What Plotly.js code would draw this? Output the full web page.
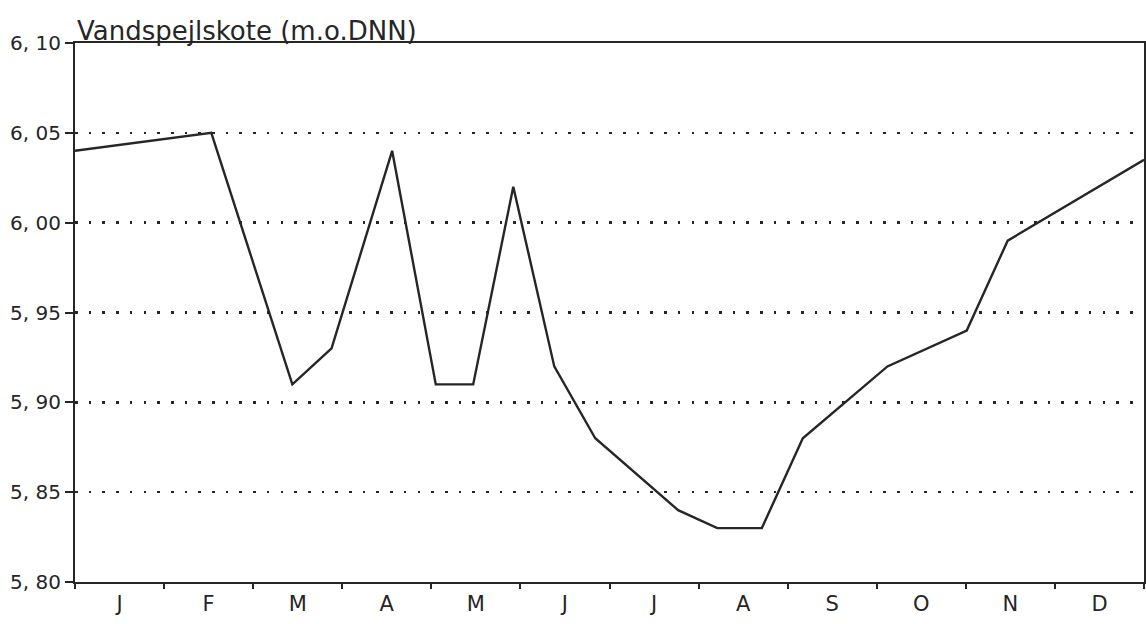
<!DOCTYPE html>
<html>
<head>
<meta charset="utf-8">
<script src="https://cdn.plot.ly/plotly-3.0.1.min.js"></script>
<style>
  html, body { margin: 0; padding: 0; background: #ffffff; }
  #chart { width: 1146px; height: 624px; }
</style>
</head>
<body>
<div id="chart"></div>
<script>
// Month labels (centred in each month) and month boundaries
const monthLabels = ['J', 'F', 'M', 'A', 'M', 'J', 'J', 'A', 'S', 'O', 'N', 'D'];
const monthCentres = [0.5, 1.5, 2.5, 3.5, 4.5, 5.5, 6.5, 7.5, 8.5, 9.5, 10.5, 11.5];
const monthBounds = [0, 1, 2, 3, 4, 5, 6, 7, 8, 9, 10, 11, 12];

// Water level series: time in months from 1 January, level in m (DNN)
const timeMonths = [0, 1.53, 2.44, 2.88, 3.56, 4.05, 4.47, 4.92, 5.38, 5.84, 6.77, 7.21, 7.71, 8.17, 9.12, 10.01, 10.47, 12];
const waterLevel = [6.04, 6.05, 5.91, 5.93, 6.04, 5.91, 5.91, 6.02, 5.92, 5.88, 5.84, 5.83, 5.83, 5.88, 5.92, 5.94, 5.99, 6.035];

// Y tick values and their printed labels
const yTickVals = [5.80, 5.85, 5.90, 5.95, 6.00, 6.05, 6.10];
const yTickText = ['5, 80', '5, 85', '5, 90', '5, 95', '6, 00', '6, 05', '6, 10'];

const ink = '#262626';
const fontFam = '"DejaVu Sans", "Liberation Sans", Arial, sans-serif';

const traces = [
  {
    x: timeMonths, y: waterLevel, type: 'scatter', mode: 'lines',
    line: { color: ink, width: 2.4 }, xaxis: 'x', yaxis: 'y', hoverinfo: 'skip', showlegend: false
  },
  {
    x: timeMonths, y: waterLevel, type: 'scatter', mode: 'lines',
    line: { color: 'rgba(0,0,0,0)', width: 0 }, xaxis: 'x2', yaxis: 'y', hoverinfo: 'skip', showlegend: false
  }
];

const layout = {
  width: 1146, height: 624,
  paper_bgcolor: '#ffffff', plot_bgcolor: '#ffffff',
  margin: { l: 75, r: 2, t: 43, b: 42 },
  showlegend: false,
  font: { family: fontFam, color: ink },
  title: {
    text: 'Vandspejlskote (m.o.DNN)',
    font: { family: fontFam, size: 26, color: ink },
    xref: 'paper', x: 0, xanchor: 'left',
    yref: 'paper', y: 1, yanchor: 'bottom',
    pad: { b: 3, l: 2 }
  },
  xaxis: {
    range: [0, 12], fixedrange: true,
    tickmode: 'array', tickvals: monthCentres, ticktext: monthLabels,
    ticks: '', showgrid: false, zeroline: false,
    showline: true, linecolor: ink, linewidth: 2, mirror: true,
    tickfont: { family: fontFam, size: 21, color: ink },
    ticklabelstandoff: 2
  },
  xaxis2: {
    overlaying: 'x', side: 'bottom', anchor: 'y',
    range: [0, 12], fixedrange: true,
    tickmode: 'array', tickvals: monthBounds, ticktext: monthBounds.map(() => ''),
    ticks: 'outside', ticklen: 6, tickwidth: 2, tickcolor: ink,
    showgrid: false, zeroline: false, showline: false
  },
  yaxis: {
    range: [5.80, 6.10], fixedrange: true,
    tickmode: 'array', tickvals: yTickVals, ticktext: yTickText,
    ticks: 'outside', ticklen: 8, tickwidth: 2, tickcolor: ink,
    showgrid: true, gridcolor: ink, gridwidth: 2.6, griddash: '2.6px,11.1px',
    zeroline: false,
    showline: true, linecolor: ink, linewidth: 2, mirror: true,
    tickfont: { family: fontFam, size: 20, color: ink }
  }
};

Plotly.newPlot('chart', traces, layout, { staticPlot: true, displayModeBar: false });
</script>
</body>
</html>
